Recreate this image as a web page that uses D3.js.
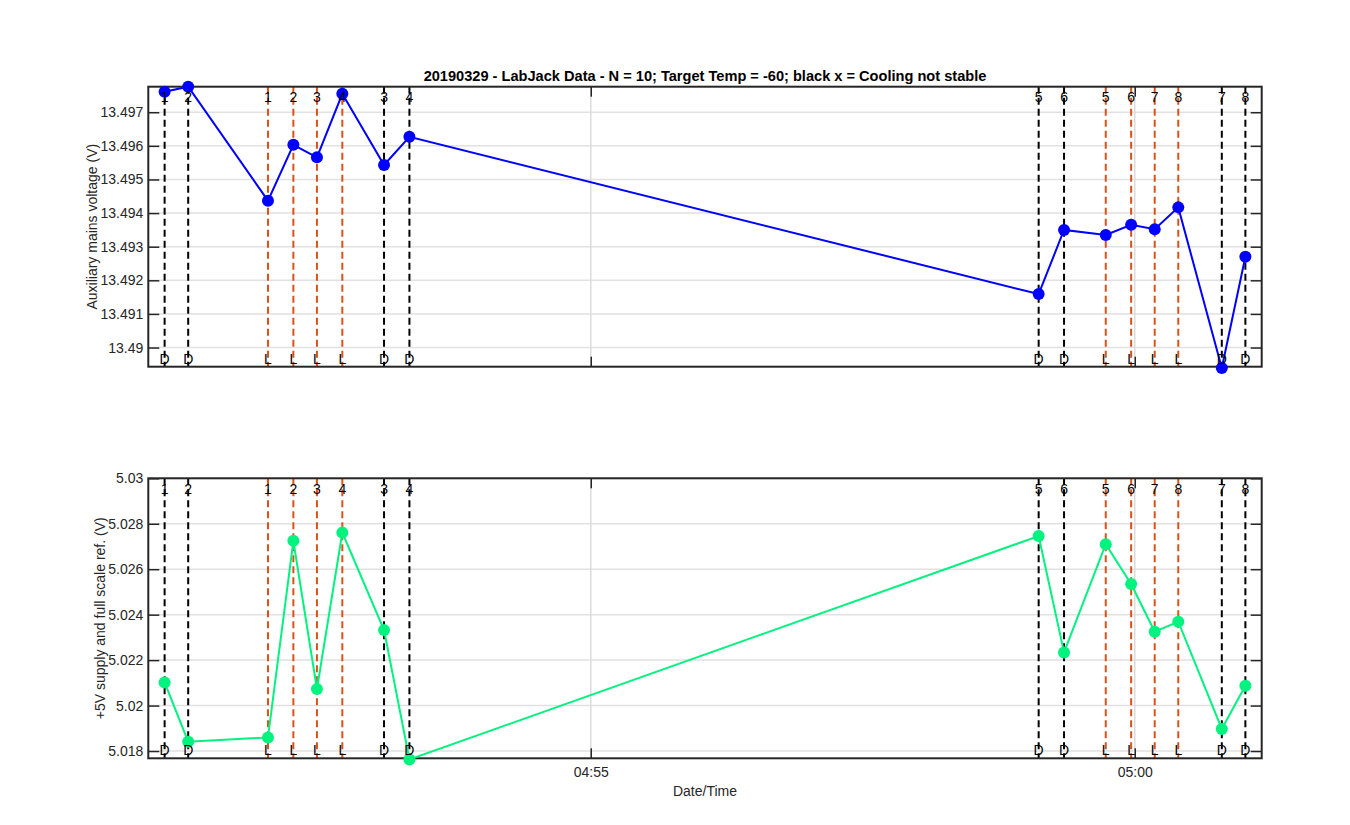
<!DOCTYPE html>
<html><head><meta charset="utf-8">
<script src="https://cdn.jsdelivr.net/npm/d3@7"></script>
<style>body{margin:0;background:#fff;} svg{display:block;font-family:"Liberation Sans",Arial,sans-serif;}</style>
</head><body>
<svg id="c" width="1350" height="825"></svg>
<script>
// ---- data ----
const times = ["04:51:05","04:51:18","04:52:02","04:52:16","04:52:29","04:52:43","04:53:06","04:53:20",
               "04:59:07","04:59:21","04:59:44","04:59:58","05:00:11","05:00:24","05:00:48","05:01:01"];
const kinds = ["D","D","L","L","L","L","D","D","D","D","L","L","L","L","D","D"];
const idx   = ["1","2","1","2","3","4","3","4","5","6","5","6","7","8","7","8"];
const auxVoltage = [13.49761,13.49776,13.49437,13.49603,13.49566,13.49755,13.49543,13.49627,
                    13.49159,13.49350,13.49335,13.49365,13.49352,13.49417,13.48939,13.49270];
const refVoltage = [5.02102,5.01841,5.01860,5.02725,5.02073,5.02761,5.02332,5.01763,
                    5.02746,5.02234,5.02710,5.02535,5.02325,5.02369,5.01897,5.02087];
const xDomain = ["04:50:56","05:01:10"];
const xTicks = ["04:55:00","05:00:00"];
const topYTicks = [13.49,13.491,13.492,13.493,13.494,13.495,13.496,13.497];
const topYDomain = [13.48943,13.49776];
const botYTicks = [5.018,5.02,5.022,5.024,5.026,5.028,5.03];
const botYDomain = [5.01768,5.03];
const title = "20190329 - LabJack Data - N = 10; Target Temp = -60; black x = Cooling not stable";

const parse = d3.timeParse("%H:%M:%S");
const svg = d3.select("#c");
const L = 148.3, R = 1261.7;
const x = d3.scaleTime().domain(xDomain.map(parse)).range([L, R]);
const tDates = times.map(parse);
const axisCol = "#262626";
const FF = "Liberation Sans, Arial, sans-serif";

function panel(top, bottom, domain, yTicks, vals, color, ylabel, showXLabels, numDy, ylabX) {
  const y = d3.scaleLinear().domain(domain).range([bottom, top]);
  const g = svg.append("g");
  // grid
  g.selectAll(".hg").data(yTicks).join("line")
    .attr("x1", L).attr("x2", R).attr("y1", d => y(d)).attr("y2", d => y(d))
    .attr("stroke", "#e1e1e1").attr("stroke-width", 1.5);
  g.selectAll(".vg").data(xTicks.map(parse)).join("line")
    .attr("x1", d => x(d)).attr("x2", d => x(d)).attr("y1", top).attr("y2", bottom)
    .attr("stroke", "#dcdcdc").attr("stroke-width", 1.5);
  // dashed event lines
  g.selectAll(".ev").data(tDates).join("line")
    .attr("x1", d => x(d)).attr("x2", d => x(d)).attr("y1", top).attr("y2", bottom)
    .attr("stroke", (d, i) => kinds[i] === "D" ? "#000" : "#D95319")
    .attr("stroke-width", 2).attr("stroke-dasharray", "7,4");
  // axes ticks (inward, box)
  const yl = d3.axisLeft(y).tickValues(yTicks).tickFormat(d3.format("")).tickSizeInner(-11).tickSizeOuter(0).tickPadding(5);
  const ga = g.append("g").attr("transform", `translate(${L},0)`).call(yl);
  ga.select(".domain").remove();
  ga.selectAll("line").attr("stroke", axisCol).attr("stroke-width", 1.5);
  ga.selectAll("text").attr("fill", axisCol).style("font-size", "14px").style("font-family", FF);
  const yr = d3.axisRight(y).tickValues(yTicks).tickFormat("").tickSizeInner(-11).tickSizeOuter(0);
  const gr = g.append("g").attr("transform", `translate(${R},0)`).call(yr);
  gr.select(".domain").remove();
  gr.selectAll("line").attr("stroke", axisCol).attr("stroke-width", 1.5);
  const xb = d3.axisBottom(x).tickValues(xTicks.map(parse)).tickFormat(showXLabels ? d3.timeFormat("%H:%M") : "")
    .tickSizeInner(-10).tickSizeOuter(0).tickPadding(9);
  const gb = g.append("g").attr("transform", `translate(0,${bottom})`).call(xb);
  gb.select(".domain").remove();
  gb.selectAll("line").attr("stroke", axisCol).attr("stroke-width", 1.5);
  gb.selectAll("text").attr("fill", axisCol).style("font-size", "14px").style("font-family", FF);
  const xt = d3.axisTop(x).tickValues(xTicks.map(parse)).tickFormat("").tickSizeInner(-10).tickSizeOuter(0);
  const gt = g.append("g").attr("transform", `translate(0,${top})`).call(xt);
  gt.select(".domain").remove();
  gt.selectAll("line").attr("stroke", axisCol).attr("stroke-width", 1.5);
  g.append("rect").attr("x", L).attr("y", top).attr("width", R - L).attr("height", bottom - top)
    .attr("fill", "none").attr("stroke", axisCol).attr("stroke-width", 2);
  // data line
  const pts = tDates.map((d, i) => [x(d), y(vals[i])]);
  g.append("path").attr("d", d3.line()(pts)).attr("fill", "none").attr("stroke", color).attr("stroke-width", 2);
  g.selectAll(".mk").data(pts).join("circle").attr("cx", d => d[0]).attr("cy", d => d[1]).attr("r", 6).attr("fill", color);
  // labels
  g.selectAll(".nl").data(tDates).join("text").attr("x", d => x(d)).attr("y", top + numDy)
    .attr("text-anchor", "middle").style("font-size", "14px").attr("fill", "#000").text((d, i) => idx[i]);
  g.selectAll(".kl").data(tDates).join("text").attr("x", d => x(d)).attr("y", bottom - 3)
    .attr("text-anchor", "middle").style("font-size", "14px").attr("fill", "#000").text((d, i) => kinds[i]);
  // y label
  g.append("text").attr("transform", `translate(${ylabX},${(top + bottom) / 2}) rotate(-90)`)
    .attr("text-anchor", "middle").style("font-size", "14px").attr("fill", axisCol).text(ylabel);
}

panel(86.7, 366.7, topYDomain, topYTicks, auxVoltage, "#0000FF", "Auxiliary mains voltage (V)", false, 15, 97);
panel(478.3, 758.3, botYDomain, botYTicks, refVoltage, "#00F27F", "+5V supply and full scale ref. (V)", true, 16, 105);

svg.append("text").attr("x", (L + R) / 2).attr("y", 81).attr("text-anchor", "middle")
  .style("font-size", "14.6px").style("font-weight", "bold").attr("fill", "#000").text(title);
svg.append("text").attr("x", (L + R) / 2).attr("y", 796).attr("text-anchor", "middle")
  .style("font-size", "14px").attr("fill", axisCol).text("Date/Time");
</script>
</body></html>
